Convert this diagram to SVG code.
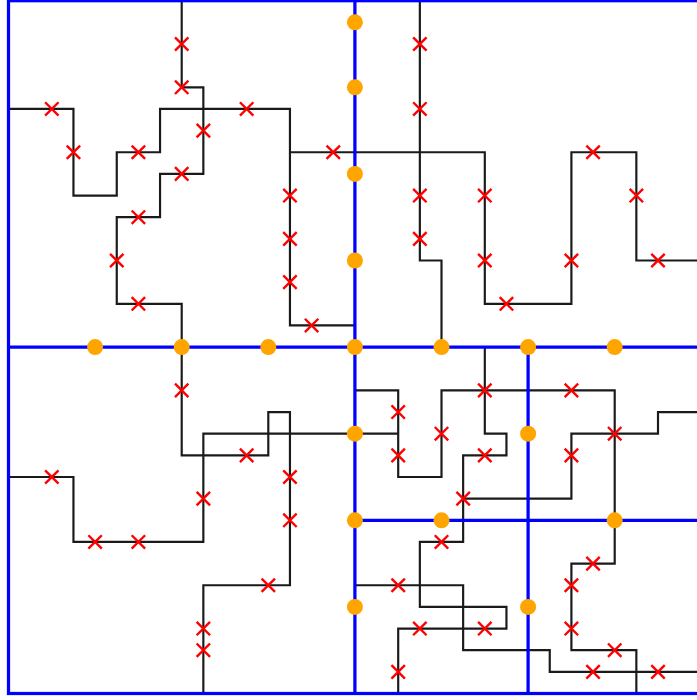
<svg xmlns="http://www.w3.org/2000/svg" width="697" height="700" viewBox="0 0 697 700">
<defs>
<style>
.wire{fill:none;stroke:#1a1a1a;stroke-width:0.1}
.cut{fill:none;stroke:#0000ff;stroke-width:0.15}
.pin{fill:#ffa500}
.mark{fill:none;stroke:#ff0000;stroke-width:0.11}
</style>
<path id="x" class="mark" d="M-0.31,-0.31L0.31,0.31M-0.31,0.31L0.31,-0.31"/>
</defs>
<rect width="697" height="700" fill="#ffffff"/>
<g transform="translate(8.5 0.7) scale(21.65)">
<g id="connectors">
<polyline id="w1" class="wire" points="0,5 3,5 3,9 5,9 5,7 7,7 7,5 13,5 13,15 16,15"/>
<polyline id="w2" class="wire" points="13,7 22,7 22,14 26,14 26,7 29,7 29,12 32,12"/>
<polyline id="w3" class="wire" points="19,0 19,12 20,12 20,16"/>
<polyline id="w4" class="wire" points="8,0 8,4 9,4 9,8 7,8 7,10 5,10 5,14 8,14 8,21 12,21 12,19 13,19 13,27 9,27 9,32"/>
<polyline id="w5" class="wire" points="0,22 3,22 3,25 9,25 9,20 18,20"/>
<polyline id="w6" class="wire" points="16,18 18,18 18,22 20,22 20,18 28,18 28,26 26,26 26,30 29,30 29,32"/>
<polyline id="w7" class="wire" points="22,16 22,20 23,20 23,21 21,21 21,25 19,25 19,28 23,28 23,29 18,29 18,32"/>
<polyline id="w8" class="wire" points="21,23 26,23 26,20 30,20 30,19 32,19"/>
<polyline id="w9" class="wire" points="16,27 21,27 21,30 25,30 25,31 32,31"/>
</g>
<g id="partition">
<rect class="cut" x="0" y="0" width="32" height="32"/>
<path class="cut" d="M16,0V32M0,16H32M24,16V32M16,24H32"/>
</g>
<g id="crossings" class="pin">
<circle cx="16" cy="1" r="0.37"/>
<circle cx="16" cy="4" r="0.37"/>
<circle cx="16" cy="8" r="0.37"/>
<circle cx="16" cy="12" r="0.37"/>
<circle cx="4" cy="16" r="0.37"/>
<circle cx="8" cy="16" r="0.37"/>
<circle cx="12" cy="16" r="0.37"/>
<circle cx="16" cy="16" r="0.37"/>
<circle cx="20" cy="16" r="0.37"/>
<circle cx="24" cy="16" r="0.37"/>
<circle cx="28" cy="16" r="0.37"/>
<circle cx="16" cy="20" r="0.37"/>
<circle cx="24" cy="20" r="0.37"/>
<circle cx="16" cy="24" r="0.37"/>
<circle cx="20" cy="24" r="0.37"/>
<circle cx="28" cy="24" r="0.37"/>
<circle cx="16" cy="28" r="0.37"/>
<circle cx="24" cy="28" r="0.37"/>
</g>
<g id="marks">
<use href="#x" x="8" y="2"/><use href="#x" x="8" y="4"/><use href="#x" x="2" y="5"/><use href="#x" x="9" y="6"/>
<use href="#x" x="11" y="5"/><use href="#x" x="3" y="7"/><use href="#x" x="6" y="7"/><use href="#x" x="8" y="8"/>
<use href="#x" x="6" y="10"/><use href="#x" x="5" y="12"/><use href="#x" x="6" y="14"/><use href="#x" x="8" y="18"/>
<use href="#x" x="11" y="21"/><use href="#x" x="9" y="23"/><use href="#x" x="2" y="22"/><use href="#x" x="4" y="25"/>
<use href="#x" x="6" y="25"/><use href="#x" x="13" y="22"/><use href="#x" x="13" y="24"/><use href="#x" x="12" y="27"/>
<use href="#x" x="9" y="29"/><use href="#x" x="9" y="30"/>
<use href="#x" x="15" y="7"/><use href="#x" x="13" y="9"/><use href="#x" x="13" y="11"/><use href="#x" x="13" y="13"/>
<use href="#x" x="14" y="15"/><use href="#x" x="19" y="2"/><use href="#x" x="19" y="5"/><use href="#x" x="19" y="9"/>
<use href="#x" x="19" y="11"/><use href="#x" x="22" y="9"/><use href="#x" x="22" y="12"/><use href="#x" x="23" y="14"/>
<use href="#x" x="26" y="12"/><use href="#x" x="27" y="7"/><use href="#x" x="29" y="9"/><use href="#x" x="30" y="12"/>
<use href="#x" x="18" y="19"/><use href="#x" x="20" y="20"/><use href="#x" x="18" y="21"/><use href="#x" x="22" y="18"/>
<use href="#x" x="26" y="18"/><use href="#x" x="22" y="21"/><use href="#x" x="28" y="20"/><use href="#x" x="26" y="21"/>
<use href="#x" x="21" y="23"/><use href="#x" x="20" y="25"/><use href="#x" x="18" y="27"/><use href="#x" x="19" y="29"/>
<use href="#x" x="22" y="29"/><use href="#x" x="18" y="31"/><use href="#x" x="27" y="26"/><use href="#x" x="26" y="27"/>
<use href="#x" x="26" y="29"/><use href="#x" x="28" y="30"/><use href="#x" x="27" y="31"/><use href="#x" x="30" y="31"/>
</g>
</g>
</svg>
